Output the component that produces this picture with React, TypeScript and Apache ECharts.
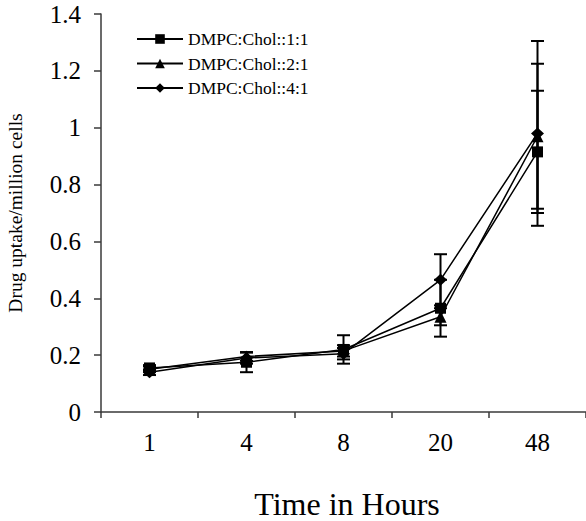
import React, { useEffect, useRef } from "react";
import * as echarts from "echarts";

const categories = ["1", "4", "8", "20", "48"];
const seriesNames = ["DMPC:Chol::1:1", "DMPC:Chol::2:1", "DMPC:Chol::4:1"];
const chol11 = [0.155, 0.175, 0.22, 0.365, 0.915];
const chol11Err = [0.01, 0.035, 0.05, 0.1, 0.215];
const chol21 = [0.15, 0.195, 0.215, 0.335, 0.97];
const chol21Err = [0.01, 0.015, 0.02, 0.03, 0.255];
const chol41 = [0.14, 0.19, 0.205, 0.465, 0.98];
const chol41Err = [0.01, 0.02, 0.02, 0.09, 0.325];
const symbols = ["rect", "triangle", "diamond"];
const yTicks = { min: 0, max: 1.4, interval: 0.2 };

const FONT = '"Liberation Serif", "Times New Roman", serif';

export default function App() {
  const ref = useRef<HTMLDivElement>(null);
  useEffect(() => {
    if (!ref.current) return;
    const chart = echarts.init(ref.current, null, { renderer: "svg" });
    const values = [chol11, chol21, chol41];
    const errs = [chol11Err, chol21Err, chol41Err];

    const lineSeries = values.map((v, i) => ({
      name: seriesNames[i],
      type: "line",
      data: v,
      symbol: symbols[i],
      symbolSize: i === 0 ? 11 : i === 1 ? 12 : [13, 12],
      itemStyle: { color: "#000" },
      lineStyle: { color: "#000", width: 1.5 },
      z: 3,
    }));

    const errSeries = values.map((v, i) => ({
      name: seriesNames[i] + " err",
      type: "custom",
      encode: { x: 0, y: [1, 2] },
      data: v.map((val, k) => [k, val - errs[i][k], val + errs[i][k]]),
      z: 4,
      renderItem: (params: any, api: any) => {
        const x = api.value(0);
        const lo = api.coord([x, api.value(1)]);
        const hi = api.coord([x, api.value(2)]);
        const w = 6.5;
        const st = { stroke: "#000", lineWidth: 2 };
        return {
          type: "group",
          children: [
            { type: "line", shape: { x1: lo[0], y1: lo[1], x2: hi[0], y2: hi[1] }, style: st },
            { type: "line", shape: { x1: lo[0] - w, y1: lo[1], x2: lo[0] + w, y2: lo[1] }, style: st },
            { type: "line", shape: { x1: hi[0] - w, y1: hi[1], x2: hi[0] + w, y2: hi[1] }, style: st },
          ],
        };
      },
    }));

    chart.setOption({
      animation: false,
      backgroundColor: "#fff",
      textStyle: { fontFamily: FONT, color: "#000" },
      grid: { left: 101, top: 14, bottom: 109, right: -6, containLabel: false },
      legend: {
        data: seriesNames,
        orient: "vertical",
        left: 131,
        top: 25,
        itemWidth: 46,
        itemHeight: 12,
        itemGap: 6.5,
        textStyle: { fontFamily: FONT, fontSize: 17.5, color: "#000" },
      },
      xAxis: {
        type: "category",
        data: categories,
        boundaryGap: true,
        axisLine: { lineStyle: { color: "#3a3a3a", width: 1.5 } },
        axisTick: { show: true, length: 6, lineStyle: { color: "#3a3a3a", width: 1.5 } },
        axisLabel: { fontFamily: FONT, fontSize: 25, color: "#000", margin: 18 },
        splitLine: { show: false },
      },
      yAxis: {
        type: "value",
        min: yTicks.min,
        max: yTicks.max,
        interval: yTicks.interval,
        axisLine: { show: true, lineStyle: { color: "#3a3a3a", width: 1.5 } },
        axisTick: { show: true, length: 7, lineStyle: { color: "#3a3a3a", width: 1.5 } },
        axisLabel: { fontFamily: FONT, fontSize: 25, color: "#000", margin: 20 },
        splitLine: { show: false },
      },
      graphic: [
        {
          type: "text",
          x: 15,
          y: 213,
          rotation: Math.PI / 2,
          style: {
            text: "Drug uptake/million cells",
            fontFamily: FONT,
            fontSize: 19.5,
            fill: "#000",
            align: "center",
            verticalAlign: "middle",
          },
        },
        {
          type: "text",
          x: 347,
          y: 504,
          style: {
            text: "Time in Hours",
            fontFamily: FONT,
            fontSize: 32,
            fill: "#000",
            align: "center",
            verticalAlign: "middle",
          },
        },
      ],
      series: [...lineSeries, ...errSeries],
    });
    return () => chart.dispose();
  }, []);
  return (
    <div
      ref={ref}
      style={{ position: "absolute", left: 0, top: 0, width: 586, height: 521, overflow: "hidden" }}
    />
  );
}
